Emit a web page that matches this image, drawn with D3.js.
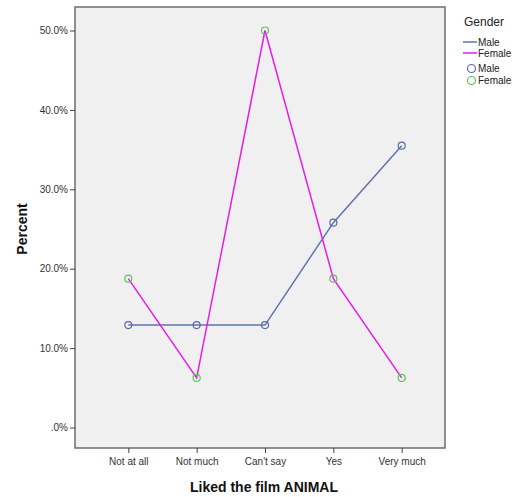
<!DOCTYPE html>
<html><head><meta charset="utf-8">
<script src="https://cdn.jsdelivr.net/npm/d3@7"></script>
<style>body{margin:0;background:#fff;}svg{display:block;font-family:"Liberation Sans",Arial,sans-serif;}</style>
</head><body><svg id="c" width="515" height="497"></svg>
<script>
const categories = ["Not at all","Not much","Can't say","Yes","Very much"];
const maleValues = [12.9, 12.9, 12.9, 25.8, 35.5];
const femaleValues = [18.75, 6.25, 50.0, 18.75, 6.25];
const yTicks = [0, 10, 20, 30, 40, 50];
const seriesNames = ["Male","Female"];

const svg = d3.select("#c");
const frame = {l:75, t:7, r:445, b:448};
const lineColors = {Male:"#6172b0", Female:"#e51ee5"};
const markerColors = {Male:"#5b6aa6", Female:"#5fc15f"};

svg.append("rect").attr("x",frame.l).attr("y",frame.t).attr("width",frame.r-frame.l).attr("height",frame.b-frame.t)
  .attr("fill","#f0f0f0").attr("stroke","#6e6e6e").attr("stroke-width",1.5);

const x = d3.scalePoint().domain(categories).range([128.3, 401.7]);
const y = d3.scaleLinear().domain([0,50]).range([427.5, 30.5]);

const yAxis = svg.append("g").attr("transform",`translate(${frame.l},0)`)
  .call(d3.axisLeft(y).tickValues(yTicks).tickSize(5).tickSizeOuter(0)
    .tickFormat(d => d===0 ? ".0%" : d3.format(".1f")(d)+"%"));
yAxis.select(".domain").remove();
yAxis.selectAll("line").attr("stroke","#444");
yAxis.selectAll("text").attr("fill","#333").attr("font-size",10).attr("x",-7);

const xAxis = svg.append("g").attr("transform",`translate(0,${frame.b})`)
  .call(d3.axisBottom(x).tickSize(5).tickSizeOuter(0));
xAxis.select(".domain").remove();
xAxis.selectAll("line").attr("stroke","#444");
xAxis.selectAll("text").attr("fill","#333").attr("font-size",10).attr("y",10);

svg.append("text").attr("x",264).attr("y",492).attr("text-anchor","middle")
  .attr("font-weight","bold").attr("font-size",14).attr("fill","#111").text("Liked the film ANIMAL");
svg.append("text").attr("transform","translate(27,229) rotate(-90)").attr("text-anchor","middle")
  .attr("font-weight","bold").attr("font-size",14).attr("fill","#111").text("Percent");

const data = {Male: maleValues, Female: femaleValues};
const line = d3.line().x((d,i)=>x(categories[i])).y(d=>y(d));
seriesNames.forEach(s=>{
  svg.append("path").datum(data[s]).attr("d",line).attr("fill","none")
    .attr("stroke",lineColors[s]).attr("stroke-width",1.5);
});
seriesNames.forEach(s=>{
  svg.selectAll(null).data(data[s]).enter().append("circle")
    .attr("cx",(d,i)=>x(categories[i])).attr("cy",d=>y(d)).attr("r",3.5)
    .attr("fill","none").attr("stroke",markerColors[s]).attr("stroke-width",1.2);
});

// legend
svg.append("text").attr("x",464).attr("y",26).attr("font-size",12).attr("fill","#222").text("Gender");
seriesNames.forEach((s,i)=>{
  const yy = 42 + i*11;
  svg.append("line").attr("x1",463).attr("x2",477).attr("y1",yy).attr("y2",yy)
    .attr("stroke",lineColors[s]).attr("stroke-width",1.5);
  svg.append("text").attr("x",478).attr("y",yy+3.5).attr("font-size",10).attr("fill","#222").text(s);
});
seriesNames.forEach((s,i)=>{
  const yy = 68.5 + i*12;
  svg.append("circle").attr("cx",471.5).attr("cy",yy).attr("r",4)
    .attr("fill","none").attr("stroke",markerColors[s]).attr("stroke-width",1.2);
  svg.append("text").attr("x",478).attr("y",yy+3.5).attr("font-size",10).attr("fill","#222").text(s);
});
</script></body></html>
